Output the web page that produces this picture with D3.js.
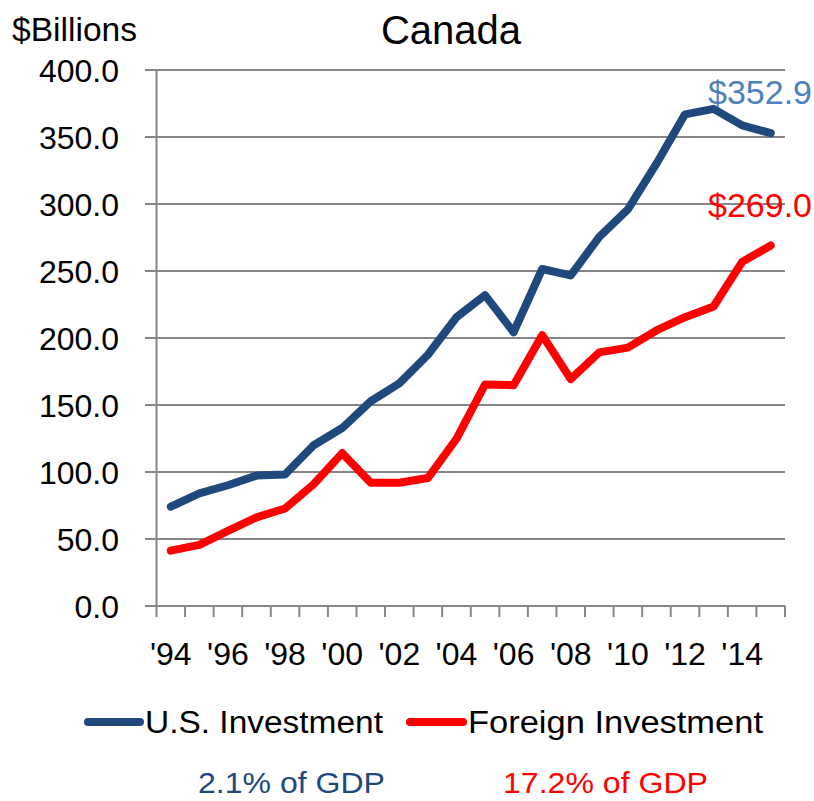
<!DOCTYPE html>
<html>
<head>
<meta charset="utf-8">
<script src="https://cdn.jsdelivr.net/npm/d3@7.9.0/dist/d3.min.js"></script>
<style>
  body { margin: 0; background: #fff; }
  svg { display: block; font-family: "Liberation Sans", Arial, sans-serif; }
</style>
</head>
<body>
<svg width="814" height="801"></svg>
<script>
const years = d3.range(1994, 2016);
const usInvestment = [74.1, 84.0, 90.1, 97.3, 98.1, 120.0, 132.8, 152.8, 166.1, 187.5, 215.5,
  232.0, 204.3, 251.5, 246.7, 275.5, 296.0, 330.1, 366.9, 371.0, 358.7, 352.9];
const foreignInvestment = [41.3, 45.6, 56.0, 66.1, 72.8, 90.9, 114.1, 92.0, 92.0, 95.5, 124.8,
  165.3, 164.8, 202.1, 169.3, 189.3, 192.8, 205.6, 215.5, 223.5, 256.8, 269.0];
const yTicks = [0, 50, 100, 150, 200, 250, 300, 350, 400];
const xTickYears = [1994, 1996, 1998, 2000, 2002, 2004, 2006, 2008, 2010, 2012, 2014];
const seriesNames = ['U.S. Investment', 'Foreign Investment'];
const gdpShares = ['2.1% of GDP', '17.2% of GDP'];

const blue = '#1f497d';
const red = '#ff0000';
const grey = '#868686';

let svg = d3.select('svg');

let x = d3.scaleBand().domain(years).range([156.5, 785]);
let y = d3.scaleLinear().domain([0, 400]).range([606, 70]);
let xc = (yr) => x(yr) + x.bandwidth() / 2;

// gridlines
svg.append('g')
  .selectAll('line')
  .data(yTicks)
  .join('line')
  .attr('x1', 145).attr('x2', 785)
  .attr('y1', (d) => y(d)).attr('y2', (d) => y(d))
  .attr('stroke', grey).attr('stroke-width', 2);

// y axis line
svg.append('line')
  .attr('x1', 156.5).attr('x2', 156.5)
  .attr('y1', y(400)).attr('y2', y(0))
  .attr('stroke', grey).attr('stroke-width', 2);

// x tick marks on band edges
let edges = years.map((yr) => x(yr)).concat([x.range()[1]]);
svg.append('g')
  .selectAll('line')
  .data(edges)
  .join('line')
  .attr('x1', (d) => d).attr('x2', (d) => d)
  .attr('y1', y(0)).attr('y2', y(0) + 11)
  .attr('stroke', grey).attr('stroke-width', 2);

// y tick labels
svg.append('g')
  .selectAll('text')
  .data(yTicks)
  .join('text')
  .attr('x', 119)
  .attr('y', (d) => y(d))
  .attr('dy', '0.36em')
  .attr('text-anchor', 'end')
  .attr('font-size', 32)
  .attr('fill', '#000')
  .text((d) => d3.format('.1f')(d));

// x tick labels
svg.append('g')
  .selectAll('text')
  .data(xTickYears)
  .join('text')
  .attr('x', (d) => xc(d))
  .attr('y', 665)
  .attr('text-anchor', 'middle')
  .attr('font-size', 32)
  .attr('fill', '#000')
  .text((d) => "'" + String(d).slice(2));

// lines
let line = d3.line()
  .x((d, i) => xc(years[i]))
  .y((d) => y(d));

svg.append('path')
  .attr('d', line(usInvestment))
  .attr('fill', 'none')
  .attr('stroke', blue)
  .attr('stroke-width', 8)
  .attr('stroke-linejoin', 'round')
  .attr('stroke-linecap', 'round');

svg.append('path')
  .attr('d', line(foreignInvestment))
  .attr('fill', 'none')
  .attr('stroke', red)
  .attr('stroke-width', 8)
  .attr('stroke-linejoin', 'round')
  .attr('stroke-linecap', 'round');

// end value labels
svg.append('text')
  .attr('x', 708).attr('y', 104)
  .attr('font-size', 33)
  .attr('fill', '#4f81bd')
  .attr('textLength', 104).attr('lengthAdjust', 'spacingAndGlyphs')
  .text('$' + d3.format('.1f')(usInvestment[usInvestment.length - 1]));

svg.append('text')
  .attr('x', 708).attr('y', 217)
  .attr('font-size', 33)
  .attr('fill', red)
  .attr('textLength', 104).attr('lengthAdjust', 'spacingAndGlyphs')
  .text('$' + d3.format('.1f')(foreignInvestment[foreignInvestment.length - 1]));

// title and unit
svg.append('text')
  .attr('x', 451).attr('y', 44)
  .attr('text-anchor', 'middle')
  .attr('font-size', 40)
  .attr('fill', '#000')
  .text('Canada');

svg.append('text')
  .attr('x', 12).attr('y', 41)
  .attr('font-size', 34)
  .attr('fill', '#000')
  .attr('textLength', 125).attr('lengthAdjust', 'spacingAndGlyphs')
  .text('$Billions');

// legend
let legendItems = [
  { name: seriesNames[0], color: blue, x1: 88, x2: 140, tx: 145, w: 238 },
  { name: seriesNames[1], color: red, x1: 410, x2: 463, tx: 468, w: 295 }
];
legendItems.forEach((d) => {
  svg.append('line')
    .attr('x1', d.x1).attr('x2', d.x2)
    .attr('y1', 722).attr('y2', 722)
    .attr('stroke', d.color).attr('stroke-width', 8)
    .attr('stroke-linecap', 'round');
  svg.append('text')
    .attr('x', d.tx).attr('y', 733)
    .attr('font-size', 31)
    .attr('fill', '#000')
    .attr('textLength', d.w).attr('lengthAdjust', 'spacingAndGlyphs')
    .text(d.name);
});

// share of GDP notes
svg.append('text')
  .attr('x', 198).attr('y', 793)
  .attr('font-size', 29)
  .attr('fill', blue)
  .attr('textLength', 187).attr('lengthAdjust', 'spacingAndGlyphs')
  .text(gdpShares[0]);

svg.append('text')
  .attr('x', 503).attr('y', 793)
  .attr('font-size', 29)
  .attr('fill', red)
  .attr('textLength', 205).attr('lengthAdjust', 'spacingAndGlyphs')
  .text(gdpShares[1]);
</script>
</body>
</html>
